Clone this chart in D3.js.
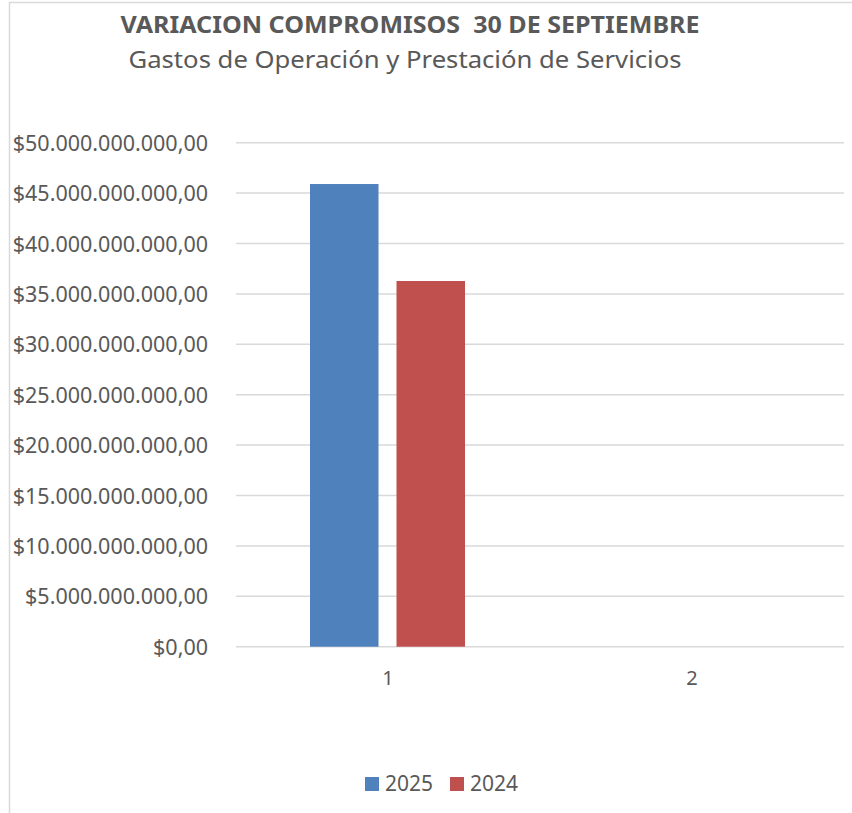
<!DOCTYPE html>
<html>
<head>
<meta charset="utf-8">
<script src="https://cdn.jsdelivr.net/npm/d3@7"></script>
<style>
  body { margin: 0; background: #fff; }
  svg { display: block; }
</style>
</head>
<body>
<div id="chart"></div>
<script>
// chart data
var categories = ["1", "2"];
var seriesNames = ["2025", "2024"];
var values2025 = [45900000000, 0];
var values2024 = [36280000000, 0];
var yTicks = [0, 5e9, 10e9, 15e9, 20e9, 25e9, 30e9, 35e9, 40e9, 45e9, 50e9];

var W = 852, H = 813;
var plot = {left: 236, right: 844, top: 142.7, bottom: 646.7};
var colors = ["#4F81BD", "#C0504D"];
var txt = "#595959";
var font = "'Liberation Sans Narrow', 'Noto Sans', sans-serif";

var es = d3.formatLocale({decimal: ",", thousands: ".", grouping: [3], currency: ["$", ""]});
var money = es.format("$,.2f");

var svg = d3.select("#chart").append("svg")
    .attr("width", W).attr("height", H);

// chart border (cut at right/bottom like the screenshot)
svg.append("path")
   .attr("d", "M9.5," + H + "V2.5H" + W)
   .attr("fill", "none").attr("stroke", "#D9D9D9").attr("stroke-width", 1.5);

// titles
svg.append("text")
   .attr("x", 410).attr("y", 33)
   .attr("text-anchor", "middle")
   .attr("font-family", font).attr("font-weight", "bold")
   .attr("font-size", "23px").attr("fill", txt)
   .attr("textLength", 579).attr("lengthAdjust", "spacingAndGlyphs")
   .style("white-space", "pre")
   .text("VARIACION COMPROMISOS  30 DE SEPTIEMBRE");

svg.append("text")
   .attr("x", 405).attr("y", 68)
   .attr("text-anchor", "middle")
   .attr("font-family", font)
   .attr("font-size", "24px").attr("fill", txt)
   .attr("textLength", 553).attr("lengthAdjust", "spacingAndGlyphs")
   .text("Gastos de Operación y Prestación de Servicios");

var yScale = d3.scaleLinear().domain([0, 50e9]).range([plot.bottom, plot.top]);
var x0 = d3.scaleBand().domain(categories).range([plot.left, plot.right]).padding(0);
var bw0 = x0.bandwidth();
var x1 = d3.scaleBand().domain(seriesNames).range([74, bw0 - 75]).paddingInner(0.208).paddingOuter(0);

// gridlines
svg.append("g").selectAll("line")
   .data(yTicks).enter().append("line")
   .attr("x1", plot.left).attr("x2", plot.right)
   .attr("y1", function(d){ return yScale(d); })
   .attr("y2", function(d){ return yScale(d); })
   .attr("stroke", "#D9D9D9").attr("stroke-width", 1.5);

// y axis labels
var yAxis = svg.append("g")
   .attr("transform", "translate(" + (plot.left - 28) + ",0)")
   .call(d3.axisLeft(yScale).tickValues(yTicks).tickFormat(money).tickSize(0).tickPadding(0));
yAxis.select(".domain").remove();
yAxis.selectAll("text")
   .attr("font-family", font).attr("font-size", "21.5px").attr("fill", txt)
   .attr("dy", "0.35em");

// x axis labels
var xAxis = svg.append("g")
   .attr("transform", "translate(0," + plot.bottom + ")")
   .call(d3.axisBottom(x0).tickSize(0).tickPadding(0));
xAxis.select(".domain").remove();
xAxis.selectAll("text")
   .attr("font-family", font).attr("font-size", "20px").attr("fill", txt)
   .attr("y", 38).attr("dy", 0);

// bars
var rows = categories.map(function(c, i){
  return {cat: c, vals: [{key: "2025", v: values2025[i]}, {key: "2024", v: values2024[i]}]};
});

var groups = svg.selectAll("g.cat")
   .data(rows).enter().append("g")
   .attr("class", "cat")
   .attr("transform", function(d){ return "translate(" + x0(d.cat) + ",0)"; });

groups.selectAll("rect")
   .data(function(d){ return d.vals; })
   .enter().append("rect")
   .attr("x", function(d){ return x1(d.key); })
   .attr("width", x1.bandwidth())
   .attr("y", function(d){ return yScale(d.v); })
   .attr("height", function(d){ return plot.bottom - yScale(d.v); })
   .attr("fill", function(d, i){ return colors[i]; });

// legend
var legendX = [365, 450];
var legend = svg.selectAll("g.legend")
   .data(seriesNames).enter().append("g")
   .attr("class", "legend")
   .attr("transform", function(d, i){ return "translate(" + legendX[i] + ",777)"; });

legend.append("rect")
   .attr("width", 14).attr("height", 14)
   .attr("fill", function(d, i){ return colors[i]; });

legend.append("text")
   .attr("x", 20).attr("y", 7).attr("dy", "0.35em")
   .attr("font-family", font).attr("font-size", "21px").attr("fill", txt)
   .text(function(d){ return d; });
</script>
</body>
</html>
